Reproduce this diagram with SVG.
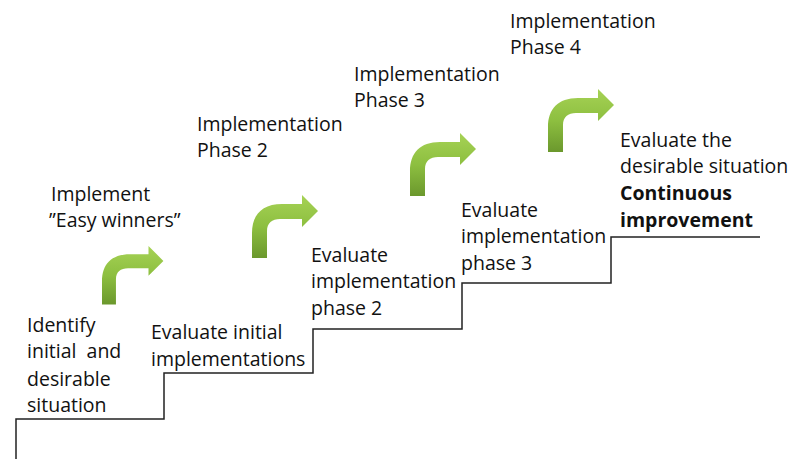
<svg xmlns="http://www.w3.org/2000/svg" width="791" height="459" viewBox="0 0 791 459">
<defs>
<linearGradient id="g" x1="0" y1="0" x2="0" y2="1">
<stop offset="0" stop-color="#a6d255"/>
<stop offset="0.5" stop-color="#8dbf40"/>
<stop offset="1" stop-color="#6b982d"/>
</linearGradient>
<path id="arr" d="M0,63 L0,38 C0,20 10,9 30,9 L50,9 L50,0 L66,16 L50,32 L50,24 L28,24 C20,24 15,28 15,36 L15,63 Z" fill="url(#g)"/>
</defs>
<style>
text{font-family:"Open Sans","Liberation Sans",sans-serif;font-size:19.5px;fill:#111;white-space:pre}
.b{font-weight:bold}
.stair{fill:none;stroke:#222;stroke-width:1.5}
</style>
<rect width="791" height="459" fill="#fff"/>
<g id="connectors">
<path class="stair" d="M16,459 V419 H164 V373 H313 V329 H462 V283 H611 V237 H760"/>
</g>
<g id="arrow1"><use href="#arr" transform="translate(102,246) scale(0.93)"/></g>
<g id="arrow2"><use href="#arr" transform="translate(252,195)"/></g>
<g id="arrow3"><use href="#arr" transform="translate(410,133)"/></g>
<g id="arrow4"><use href="#arr" transform="translate(548,89)"/></g>
<g id="n-identify"><text x="27" y="332">Identify</text><text x="27" y="358" xml:space="preserve">initial  and</text><text x="27" y="386">desirable</text><text x="27" y="412">situation</text></g>
<g id="n-easy"><text x="51" y="201">Implement</text><text x="49" y="227">”Easy winners”</text></g>
<g id="n-evalinit"><text x="151" y="339">Evaluate initial</text><text x="151" y="366">implementations</text></g>
<g id="n-impl2"><text x="197" y="131">Implementation</text><text x="197" y="157">Phase 2</text></g>
<g id="n-eval2"><text x="311" y="262">Evaluate</text><text x="311" y="288">implementation</text><text x="311" y="315">phase 2</text></g>
<g id="n-impl3"><text x="354" y="81">Implementation</text><text x="354" y="107">Phase 3</text></g>
<g id="n-eval3"><text x="461" y="217">Evaluate</text><text x="461" y="243">implementation</text><text x="461" y="270">phase 3</text></g>
<g id="n-impl4"><text x="510" y="28">Implementation</text><text x="510" y="54">Phase 4</text></g>
<g id="n-final"><text x="620" y="147">Evaluate the</text><text x="620" y="173">desirable situation</text><text class="b" x="620" y="200">Continuous</text><text class="b" x="620" y="227">improvement</text></g>
</svg>
